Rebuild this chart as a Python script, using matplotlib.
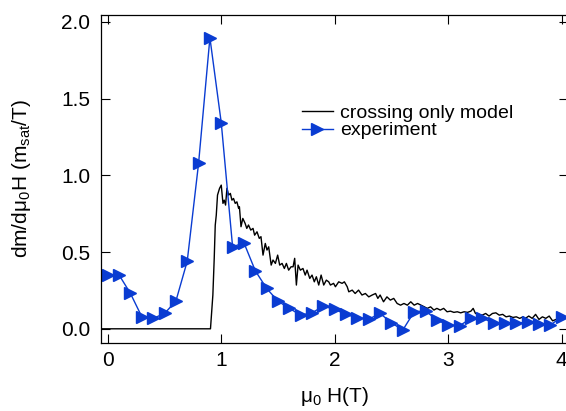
import matplotlib
matplotlib.use('Agg')
import matplotlib.pyplot as plt

plt.rcParams['font.family'] = ['Liberation Sans', 'DejaVu Sans']
plt.rcParams['mathtext.default'] = 'regular'

# experiment (blue triangles)
exp_h = [0.0, 0.1, 0.2, 0.3, 0.4, 0.5, 0.6, 0.7, 0.8, 0.9, 1.0,
         1.1, 1.2, 1.3, 1.4, 1.5, 1.6, 1.7, 1.8, 1.9, 2.0,
         2.1, 2.2, 2.3, 2.4, 2.5, 2.6, 2.7, 2.8, 2.9, 3.0,
         3.1, 3.2, 3.3, 3.4, 3.5, 3.6, 3.7, 3.8, 3.9, 4.0]
exp_dm = [0.35, 0.35, 0.23, 0.078, 0.068, 0.10, 0.18, 0.44, 1.077, 1.896, 1.342,
          0.534, 0.56, 0.378, 0.263, 0.18, 0.133, 0.089, 0.104, 0.148, 0.126,
          0.094, 0.072, 0.063, 0.10, 0.039, -0.008, 0.111, 0.117, 0.057, 0.024,
          0.02, 0.068, 0.072, 0.035, 0.035, 0.035, 0.046, 0.029, 0.024, 0.078]

# crossing only model (black line)
model_h = [-0.1, 0.905, 0.926, 0.938, 0.947, 0.956, 0.967, 0.985, 1.0, 1.015,
           1.026, 1.038, 1.05, 1.065, 1.08, 1.094, 1.108, 1.123, 1.138, 1.153,
           1.16, 1.174, 1.19, 1.21, 1.225, 1.24, 1.26, 1.28, 1.294, 1.315,
           1.335, 1.35, 1.368, 1.388, 1.403, 1.418, 1.44, 1.456, 1.477, 1.497,
           1.515, 1.536, 1.556, 1.574, 1.594, 1.615, 1.633, 1.647, 1.662, 1.677,
           1.697, 1.72, 1.74, 1.756, 1.78, 1.80, 1.82, 1.838, 1.859, 1.88,
           1.903, 1.926, 1.947, 1.962, 1.99, 2.006, 2.035, 2.065, 2.085, 2.11,
           2.124, 2.154, 2.18, 2.21, 2.24, 2.27, 2.30, 2.33, 2.36, 2.38,
           2.40, 2.43, 2.46, 2.49, 2.52, 2.55, 2.58, 2.61, 2.64, 2.67,
           2.70, 2.73, 2.76, 2.79, 2.815, 2.845, 2.874, 2.90, 2.93, 2.96,
           2.99, 3.02, 3.05, 3.08, 3.11, 3.14, 3.17, 3.20, 3.22, 3.24,
           3.27, 3.30, 3.33, 3.36, 3.39, 3.42, 3.45, 3.48, 3.51, 3.54,
           3.57, 3.60, 3.63, 3.66, 3.68, 3.71, 3.74, 3.77, 3.80, 3.83,
           3.86, 3.89, 3.92, 3.95, 3.98, 4.01, 4.05]
model_dm = [0.0, 0.0, 0.22, 0.459, 0.675, 0.74, 0.871, 0.915, 0.936, 0.817,
            0.838, 0.806, 0.915, 0.871, 0.882, 0.838, 0.849, 0.817, 0.827, 0.784,
            0.795, 0.665, 0.719, 0.687, 0.654, 0.676, 0.643, 0.654, 0.61, 0.632,
            0.589, 0.6, 0.48, 0.556, 0.513, 0.534, 0.415, 0.448, 0.426, 0.48,
            0.415, 0.426, 0.393, 0.426, 0.382, 0.404, 0.404, 0.459, 0.285, 0.415,
            0.382, 0.393, 0.35, 0.382, 0.328, 0.35, 0.306, 0.339, 0.285, 0.35,
            0.285, 0.317, 0.306, 0.285, 0.296, 0.274, 0.306, 0.296, 0.306, 0.274,
            0.241, 0.252, 0.23, 0.252, 0.22, 0.23, 0.208, 0.22, 0.23, 0.198,
            0.22, 0.176, 0.208, 0.187, 0.198, 0.165, 0.154, 0.165, 0.154, 0.176,
            0.154, 0.165, 0.154, 0.143, 0.133, 0.143, 0.122, 0.133, 0.122, 0.133,
            0.111, 0.115, 0.107, 0.111, 0.104, 0.111, 0.107, 0.115, 0.133, 0.10,
            0.094, 0.089, 0.10, 0.083, 0.10, 0.104, 0.089, 0.094, 0.078, 0.083,
            0.074, 0.078, 0.068, 0.078, 0.068, 0.083, 0.068, 0.094, 0.061, 0.078,
            0.068, 0.083, 0.052, 0.061, 0.068, 0.078, 0.07]

x_ticks = [0, 1, 2, 3, 4]
y_ticks = [0.0, 0.5, 1.0, 1.5, 2.0]

fig = plt.figure(figsize=(5.66, 4.11), dpi=100)
ax = fig.add_axes([0.178, 0.166, 0.825, 0.7975])

ax.plot(model_h, model_dm, color='black', lw=1.0, label='crossing only model')
ax.plot(exp_h, exp_dm, color='#0a3cd2', lw=1.0, marker='>', ms=8,
        clip_on=False, label='experiment')

ax.set_xlim(-0.062, 4.053)
ax.set_ylim(-0.091, 2.044)
ax.set_xticks(x_ticks)
ax.set_yticks(y_ticks)
ax.set_xticklabels([str(t) for t in x_ticks])
ax.set_yticklabels(['%.1f' % t for t in y_ticks])
ax.tick_params(direction='in', length=6.5, width=0.8, labelsize=15,
               top=True, right=True, pad=6)
ax.tick_params(axis='y', pad=7.5)
for s in ax.spines.values():
    s.set_linewidth(0.9)

ax.set_xlabel('μ$_0$ H(T)', fontsize=15, labelpad=11)
ax.set_ylabel('dm/dμ$_0$H (m$_{sat}$/T)', fontsize=15, labelpad=20)

ax.legend(loc='upper left', bbox_to_anchor=(0.43, 0.728), frameon=False,
          fontsize=14, numpoints=1, handlelength=1.6, handletextpad=0.4,
          labelspacing=0.0, borderpad=0, borderaxespad=0)

fig.savefig('out.png', dpi=100)
